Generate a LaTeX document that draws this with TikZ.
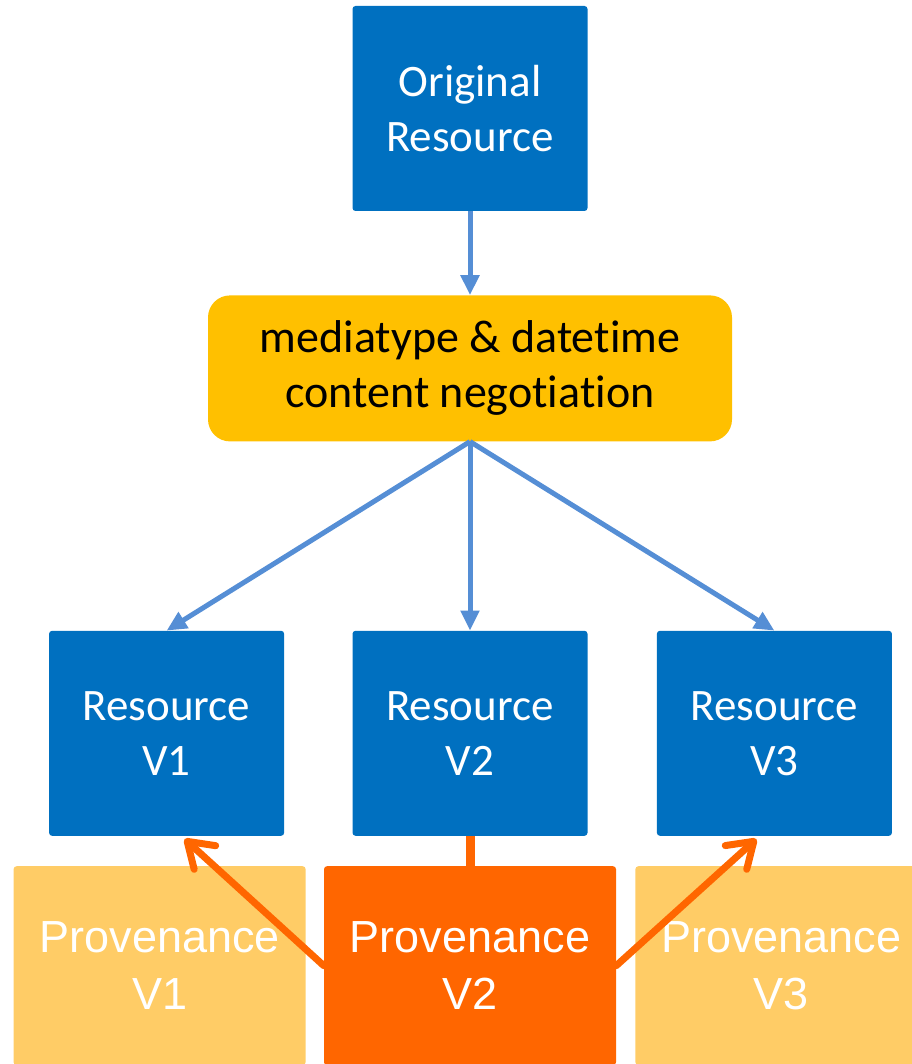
\documentclass[tikz,border=0pt]{standalone}
\usepackage{fontspec}
\setmainfont{Carlito}[RawFeature=-liga, RawFeature=-clig, RawFeature=-calt, RawFeature=-dlig]
\newfontfamily\provfont{Liberation Sans}
\usetikzlibrary{arrows.meta,calc,positioning}
\definecolor{resblue}{HTML}{0070C0}
\definecolor{negoyellow}{HTML}{FFC000}
\definecolor{arrblue}{HTML}{558ED5}
\definecolor{provorange}{HTML}{FF6600}
\definecolor{provpale}{HTML}{FFCC66}
\tikzset{res/.style={fill=resblue, rounded corners=3pt, minimum width=235pt, minimum height=205pt, inner sep=0pt, text=white, align=center, font=\fontsize{45}{55}\selectfont}}
\tikzstyle{nego}=[fill=negoyellow, rounded corners=22pt, minimum width=524pt, minimum height=146pt, inner sep=0pt, align=center, font=\fontsize{46}{55}\selectfont]
\tikzstyle{prov}=[fill=provpale, rounded corners=3pt, minimum width=292pt, minimum height=199pt, inner sep=0pt, text=white, align=center, font=\provfont\fontsize{45}{57}\selectfont]
\tikzstyle{barb}=[-{Straight Barb[length=24pt, width=32pt, round]}, provorange, line width=7pt, line cap=round]

\begin{document}
\begin{tikzpicture}[x=1pt, y=-1pt, >={Triangle[length=20pt, width=18pt]}, node distance=84pt]
\useasboundingbox (0,0) rectangle (911,1064);
\node[res] (orig) at (470,108.5) {Original\\Resource};
\node[nego][below=of orig] (nego) {mediatype \& datetime\\content negotiation};
\node[res][below=189pt of nego] (rv2) {Resource\\V2};
\node[res][left=68pt of rv2] (rv1) {Resource\\V1};
\node[res][right=69pt of rv2] (rv3) {Resource\\V3};
\node[prov, fill=provorange][below=30pt of rv2] (pv2) {Provenance\\V2};
\node[prov][left=18pt of pv2] (pv1) {Provenance\\V1};
\node[prov][right=19pt of pv2] (pv3) {Provenance\\V3};
\path[->, arrblue, line width=5pt]
  (orig) edge (nego)
  (nego.south) edge (rv1.north)
  (nego.south) edge (rv2.north)
  (nego.south) edge (rv3.north);
\draw[provorange, line width=9pt] (pv2.north) -- (rv2.south);
\draw[barb] (pv2.west) -- ($(rv1.south)+(18,3)$);
\draw[barb] (pv2.east) -- ($(rv3.south)+(-18,3)$);
\end{tikzpicture}
\end{document}
